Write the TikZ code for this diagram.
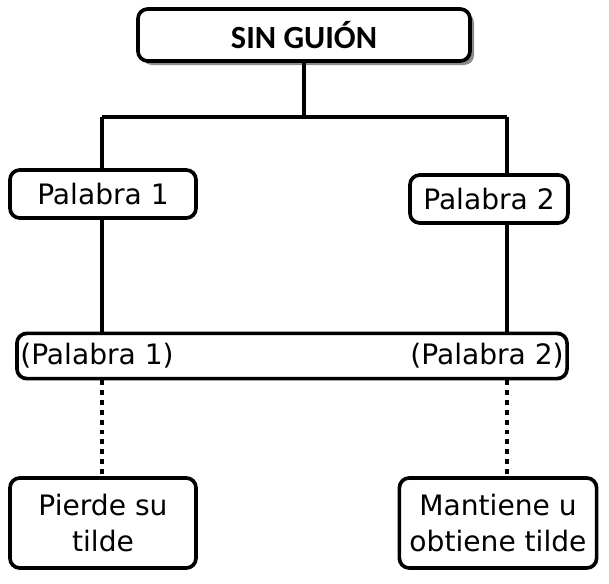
\documentclass[tikz,border=0pt]{standalone}
\usepackage{fontspec}
\setmainfont{DejaVu Sans}
\newfontfamily\titlefont{Carlito}
\usetikzlibrary{shadows}
\definecolor{shadowgray}{RGB}{140,140,140}

\tikzset{
    wordbox/.style={draw, line width=2.6pt, rounded corners=7pt, fill=white, align=center, inner sep=0pt, font=\fontsize{20}{26}\selectfont},
    link/.style={line width=2.6pt},
    dotlink/.style={line width=3.4pt, dash pattern=on 3.4pt off 3.6pt}
}

\begin{document}
\begin{tikzpicture}[x=0.025cm, y=-0.025cm]
    \useasboundingbox (0,0) rectangle (609,583);

    \node[wordbox, minimum width=8.3cm, minimum height=1.3cm, font=\titlefont\bfseries\fontsize{23}{27}\selectfont,
          general shadow={fill=shadowgray, shadow xshift=0.1cm, shadow yshift=-0.1cm}] (singuion) at (304,35) {SIN GUIÓN};

    \node[wordbox, minimum width=4.65cm, minimum height=1.2cm] (palabra1) at (103,194) {Palabra 1};
    \node[wordbox, minimum width=3.95cm, minimum height=1.2cm] (palabra2) at (489,199) {Palabra 2};

    \node[wordbox, minimum width=13.75cm, minimum height=1.13cm] (union) at (292,356) {};
    \node[anchor=west, inner sep=0pt, font=\fontsize{20}{26}\selectfont] (union1) at (20,356) {(Palabra 1)};
    \node[anchor=east, inner sep=0pt, font=\fontsize{20}{26}\selectfont] (union2) at (564,356) {(Palabra 2)};

    \node[wordbox, minimum width=4.65cm, minimum height=2.25cm] (pierde) at (103,523) {Pierde su\\tilde};
    \node[wordbox, minimum width=4.93cm, minimum height=2.25cm] (mantiene) at (498,523) {Mantiene u\\obtiene tilde};

    % ramas
    \coordinate (split) at (304,117);
    \coordinate (izq) at (102,117);
    \coordinate (der) at (507,117);
    \draw[link] (singuion.south) -- (split);
    \draw[link] (izq) -- (der);
    \draw[link] (izq) -- (izq|-palabra1.north);
    \draw[link] (der) -- (der|-palabra2.north);
    \draw[link] (izq|-palabra1.south) -- (izq|-union.north);
    \draw[link] (der|-palabra2.south) -- (der|-union.north);

    % punteadas
    \draw[dotlink] (izq|-union.south) -- (izq|-pierde.north);
    \draw[dotlink] (der|-union.south) -- (der|-mantiene.north);
\end{tikzpicture}
\end{document}
